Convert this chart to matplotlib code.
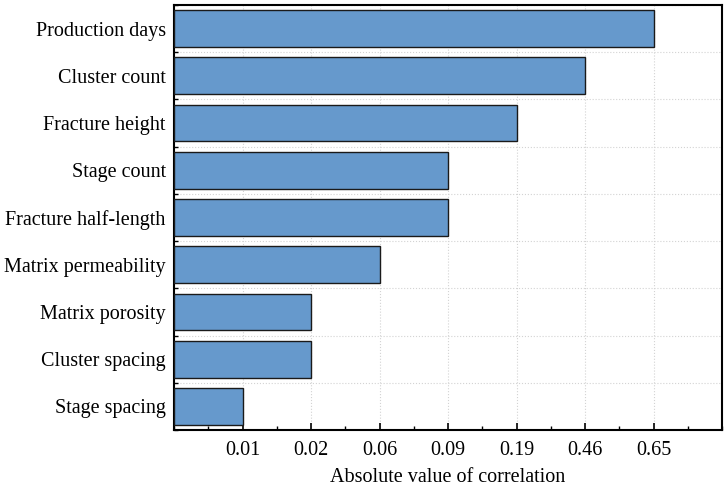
import matplotlib.pyplot as plt
import numpy as np
from matplotlib.ticker import MultipleLocator

plt.rcParams['font.family'] = ['Liberation Serif', 'DejaVu Serif']

# Data (top to bottom)
features = ["Production days", "Cluster count", "Fracture height", "Stage count",
            "Fracture half-length", "Matrix permeability", "Matrix porosity",
            "Cluster spacing", "Stage spacing"]
# bar lengths as rank positions on the categorical x axis
rank = [7, 6, 5, 4, 4, 3, 2, 2, 1]
tick_labels = ["0.01", "0.02", "0.06", "0.09", "0.19", "0.46", "0.65"]

fig = plt.figure(figsize=(7.26, 4.9), dpi=100)
ax = fig.add_axes([174/726, 60/490, 548/726, 425/490])

y = np.arange(len(features))[::-1]
ax.barh(y, rank, height=0.78, color="#6699cc", edgecolor="#1a1a1a", linewidth=1.0, zorder=3)

ax.set_xlim(0, 8)
ax.set_ylim(-0.47, len(features) - 0.53)
ax.set_xticks(range(1, 8))
ax.set_xticklabels(tick_labels, fontsize=14.5)
ax.xaxis.set_minor_locator(MultipleLocator(0.5))
ax.set_yticks(y)
ax.set_yticklabels(features, fontsize=14.5)
ax.set_yticks(np.arange(-0.5, len(features)), minor=True)

ax.tick_params(axis='both', which='major', direction='in', length=5, width=1.2, pad=6)
ax.tick_params(axis='both', which='minor', direction='in', length=3, width=1.0)
ax.tick_params(axis='x', which='major', pad=8)

ax.grid(axis='x', which='major', color='lightgray', linestyle=':', linewidth=0.8, zorder=0)
ax.grid(axis='y', which='minor', color='lightgray', linestyle=':', linewidth=0.8, zorder=0)

for s in ax.spines.values():
    s.set_linewidth(1.5)

ax.set_xlabel("Absolute value of correlation", fontsize=14.5, labelpad=6)

fig.savefig("out.png", dpi=100)
